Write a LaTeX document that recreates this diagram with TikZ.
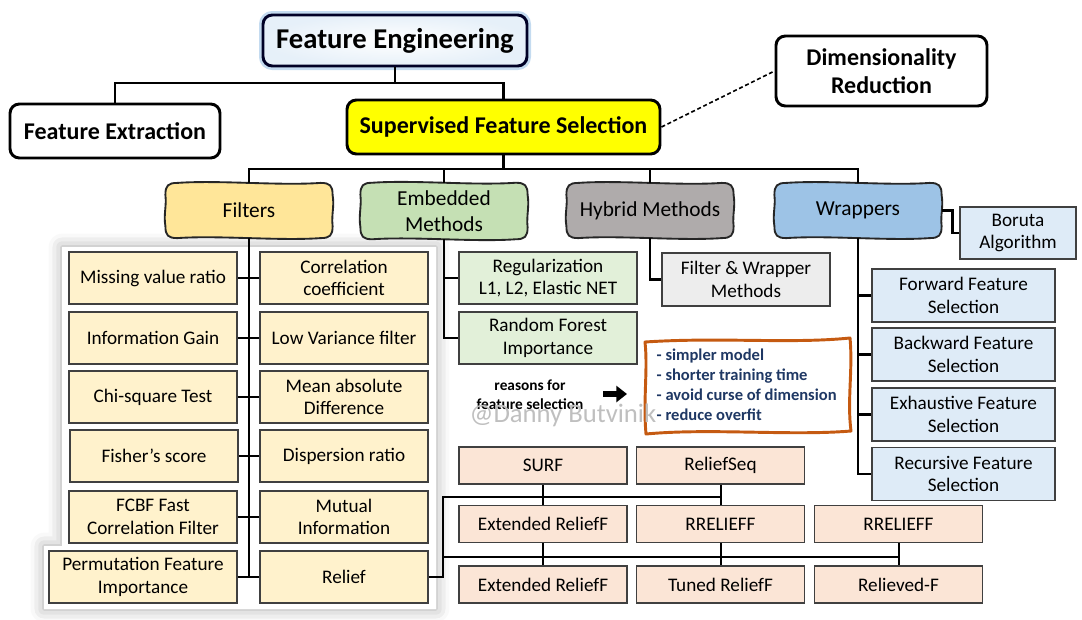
\documentclass[tikz,border=0pt]{standalone}
\usepackage{fontspec}
\setmainfont{Carlito}
\usetikzlibrary{arrows.meta,backgrounds,shadows.blur}
\definecolor{selyellow}{HTML}{FFFF00}
\definecolor{filtfill}{HTML}{FFE699}
\definecolor{embfill}{HTML}{C5E0B4}
\definecolor{hybfill}{HTML}{AFABAB}
\definecolor{wrapfill}{HTML}{9DC3E6}
\definecolor{filtitemfill}{HTML}{FFF2CC}
\definecolor{embitemfill}{HTML}{E2F0D9}
\definecolor{hybitemfill}{HTML}{EDEDED}
\definecolor{wrapitemfill}{HTML}{DEEBF7}
\definecolor{relitemfill}{HTML}{FBE5D6}
\definecolor{reasonline}{HTML}{C55A11}
\definecolor{reasontext}{HTML}{1F3864}
\definecolor{glowblue}{HTML}{9DC3E6}
% hand drawn box round a node: #1 node, #2 fill
\newcommand{\handbox}[2]{%
  \draw[line width=1.4pt, draw=black!85, fill=#2]
    ([xshift=9pt]#1.north west)
    .. controls ([xshift=40pt,yshift=2.2pt]#1.north west) and ([xshift=-40pt,yshift=-2.2pt]#1.north east) .. ([xshift=-9pt]#1.north east)
    .. controls ([xshift=-2pt]#1.north east) and ([yshift=-2pt]#1.north east) .. ([yshift=-9pt]#1.north east)
    .. controls ([xshift=1.5pt,yshift=-18pt]#1.north east) and ([xshift=-1pt,yshift=18pt]#1.south east) .. ([yshift=9pt]#1.south east)
    .. controls ([yshift=2pt]#1.south east) and ([xshift=-2pt]#1.south east) .. ([xshift=-9pt]#1.south east)
    .. controls ([xshift=-40pt,yshift=-2.2pt]#1.south east) and ([xshift=40pt,yshift=2.2pt]#1.south west) .. ([xshift=9pt]#1.south west)
    .. controls ([xshift=2pt]#1.south west) and ([yshift=2pt]#1.south west) .. ([yshift=9pt]#1.south west)
    .. controls ([xshift=-1.5pt,yshift=18pt]#1.south west) and ([xshift=1pt,yshift=-18pt]#1.north west) .. ([yshift=-9pt]#1.north west)
    .. controls ([yshift=-2pt]#1.north west) and ([xshift=2pt]#1.north west) .. cycle;}
\begin{document}
\begin{tikzpicture}[x=0.75pt,y=-0.75pt,
    topbox/.style={draw=black, line width=2.2pt, rounded corners=7pt, fill=white,
      align=center, inner sep=0pt, font=\bfseries\fontsize{18}{21}\selectfont},
    catbox/.style={align=center, inner sep=0pt, minimum width=125pt, minimum height=41pt,
      font=\fontsize{16}{19.5}\selectfont},
    itembox/.style={draw=black!75, line width=1.3pt, align=center, inner sep=0pt,
      minimum width=126pt, minimum height=39pt, font=\fontsize{14.4}{16.8}\selectfont},
    filtitem/.style={itembox, fill=filtitemfill},
    embitem/.style={itembox, fill=embitemfill, minimum width=133.5pt},
    wrapitem/.style={itembox, fill=wrapitemfill, minimum width=137.25pt, minimum height=39.75pt},
    relitem/.style={itembox, fill=relitemfill, minimum height=27.75pt},
    conn/.style={line width=2pt},
  ]
  \useasboundingbox (0,0) rectangle (1082,619);

  % top level
  \node[topbox, minimum width=198pt, minimum height=38.25pt, draw=black!85!blue,
    inner color=white, outer color=glowblue!25,
    preaction={draw=glowblue, line width=6pt, opacity=0.6},
    font=\bfseries\fontsize{21.5}{24}\selectfont] (fe) at (395,40.5) {Feature Engineering};
  \node[topbox, minimum width=157.5pt, minimum height=40.5pt] (fx) at (115,131) {Feature Extraction};
  \node[topbox, fill=selyellow, minimum width=234.75pt, minimum height=40.5pt] (sfs) at (503.5,127) {Supervised Feature Selection};
  \node[topbox, minimum width=158.25pt, minimum height=52.5pt] (dr) at (881.5,71) {Dimensionality\\Reduction};

  % categories
  \node[catbox] (filt) at (249,210.5) {Filters};
  \node[catbox, minimum height=42pt] (emb) at (444,211) {Embedded\\Methods};
  \node[catbox] (hyb) at (650,210.5) {Hybrid Methods};
  \node[catbox] (wrap) at (858,210.5) {Wrappers};

  % filters
  \node[filtitem] (mvr) at (153,278) {Missing value ratio};
  \node[filtitem] (ig) at (153,338) {Information Gain};
  \node[filtitem] (chi) at (153,397) {Chi-square Test};
  \node[filtitem] (fish) at (154,456) {Fisher’s score};
  \node[filtitem] (fcbf) at (153,517) {FCBF Fast\\Correlation Filter};
  \node[filtitem, minimum width=141pt] (perm) at (143,577) {Permutation Feature\\Importance};
  \node[filtitem] (corr) at (344,278) {Correlation\\coefficient};
  \node[filtitem] (lvf) at (344,338) {Low Variance filter};
  \node[filtitem] (mad) at (344,397) {Mean absolute\\Difference};
  \node[filtitem] (disp) at (344,456) {Dispersion ratio};
  \node[filtitem] (mi) at (344,517) {Mutual\\Information};
  \node[filtitem] (relief) at (344,577) {Relief};

  % embedded and hybrid
  \node[embitem] (reg) at (548,278) {Regularization\\L1, L2, Elastic NET};
  \node[embitem] (rfi) at (548,338) {Random Forest\\Importance};
  \node[itembox, fill=hybitemfill, minimum height=39.75pt] (fw) at (746,279.5) {Filter \& Wrapper\\Methods};

  % wrappers
  \node[itembox, fill=wrapitemfill, minimum width=87pt] (bor) at (1018,233) {Boruta\\Algorithm};
  \node[wrapitem] (ffs) at (963.5,295.5) {Forward Feature\\Selection};
  \node[wrapitem] (bfs) at (963.5,354.5) {Backward Feature\\Selection};
  \node[wrapitem] (efs) at (963.5,414.5) {Exhaustive Feature\\Selection};
  \node[wrapitem] (rfs) at (963.5,474) {Recursive Feature\\Selection};

  % relief family
  \node[relitem] (surf) at (543,465.5) {SURF};
  \node[relitem] (rseq) at (720.5,465.5) {ReliefSeq};
  \node[relitem] (extA) at (543,524) {Extended ReliefF};
  \node[relitem] (rra) at (720.5,524) {RRELIEFF};
  \node[relitem] (rrb) at (898.5,524) {RRELIEFF};
  \node[relitem] (extB) at (543,584.5) {Extended ReliefF};
  \node[relitem] (tuned) at (720.5,584.5) {Tuned ReliefF};
  \node[relitem] (relieved) at (898.5,584.5) {Relieved-F};

  % shadow and category boxes behind the texts
  \begin{scope}[on background layer]
    \path[fill=white, blur shadow={shadow xshift=0pt, shadow yshift=0pt,
        shadow blur radius=10pt, shadow opacity=35}]
      (62,247) -- (436,247) -- (436,609) -- (44,609) -- (44,546) -- (62,546) -- cycle;
    \handbox{filt}{filtfill}
    \handbox{emb}{embfill}
    \handbox{hyb}{hybfill}
    \handbox{wrap}{wrapfill}
  \end{scope}

  % reasons
  \node[font=\bfseries\fontsize{11.5}{14.25}\selectfont, align=center] (why) at (530,394.5) {reasons for\\feature selection};
  \coordinate (arrtail) at (603,394);
  \coordinate (arrhead) at (627,394);
  \draw[line width=4.5pt, -{Triangle[length=8pt, width=12pt]}] (arrtail) -- (arrhead);
  \draw[draw=reasonline, line width=2.2pt, fill=white, line join=round]
    (645,342) .. controls (720,337) and (790,344) .. (850,338)
    .. controls (853,370) and (847,400) .. (851,431)
    .. controls (790,436) and (710,428) .. (646,434)
    .. controls (643,400) and (648,370) .. cycle;
  \node[anchor=west, align=left, text=reasontext, font=\bfseries\fontsize{12.4}{15}\selectfont] (list) at (652,385)
    {- simpler model\\- shorter training time\\- avoid curse of dimension\\- reduce overfit};
  \node[anchor=west, text=black!25, font=\fontsize{20}{24}\selectfont] (mark) at (465,415) {@Danny Butvinik};

  % connectors: top
  \coordinate (febus) at (395,83);
  \draw[conn] (fe.south) -- (febus);
  \draw[conn] (fx.north) |- (febus) -| (sfs.north);
  \draw[dashed, line width=1.2pt, dash pattern=on 3pt off 2pt] (sfs.east) -- (dr.west);

  % connectors: categories
  \coordinate (sfsbus) at (503.5,169);
  \draw[conn] (sfs.south) -- (sfsbus);
  \draw[conn] (filt.north) |- (sfsbus) -| (wrap.north);
  \draw[conn] (emb.north) -- (emb.north |- sfsbus);
  \draw[conn] (hyb.north) -- (hyb.north |- sfsbus);

  % connectors: filters
  \draw[conn] (filt.south) -- (filt.south |- perm.east);
  \draw[line width=1.5pt] (mvr.east) -- (corr.west);
  \draw[line width=1.5pt] (ig.east) -- (lvf.west);
  \draw[line width=1.5pt] (chi.east) -- (mad.west);
  \draw[line width=1.5pt] (fish.east) -- (disp.west);
  \draw[line width=1.5pt] (fcbf.east) -- (mi.west);
  \draw[conn] (perm.east) -- (relief.west);

  % connectors: relief family
  \coordinate (relbusA) at (443,497);
  \coordinate (relbusB) at (443,557);
  \draw[conn] (relief.east) -| (relbusA) -- (relbusA -| rseq.south);
  \draw[conn] (relbusB) -- (relbusB -| rrb.south);
  \draw[line width=1.5pt] (surf.south) -- (extA.north);
  \draw[line width=1.5pt] (rseq.south) -- (rra.north);
  \draw[line width=1.5pt] (extA.south) -- (extB.north);
  \draw[line width=1.5pt] (rra.south) -- (tuned.north);
  \draw[line width=1.5pt] (rrb.south) -- (relieved.north);

  % connectors: embedded, hybrid, wrappers
  \draw[conn] (emb.south) |- (rfi.west);
  \draw[conn] (emb.south |- reg.west) -- (reg.west);
  \draw[conn] (hyb.south) |- (fw.west);
  \draw[conn] (wrap.east) -- ++(11,0) |- (bor.west);
  \draw[conn] (wrap.south) |- (rfs.west);
  \draw[conn] (wrap.south |- ffs.west) -- (ffs.west);
  \draw[conn] (wrap.south |- bfs.west) -- (bfs.west);
  \draw[conn] (wrap.south |- efs.west) -- (efs.west);
\end{tikzpicture}
\end{document}
